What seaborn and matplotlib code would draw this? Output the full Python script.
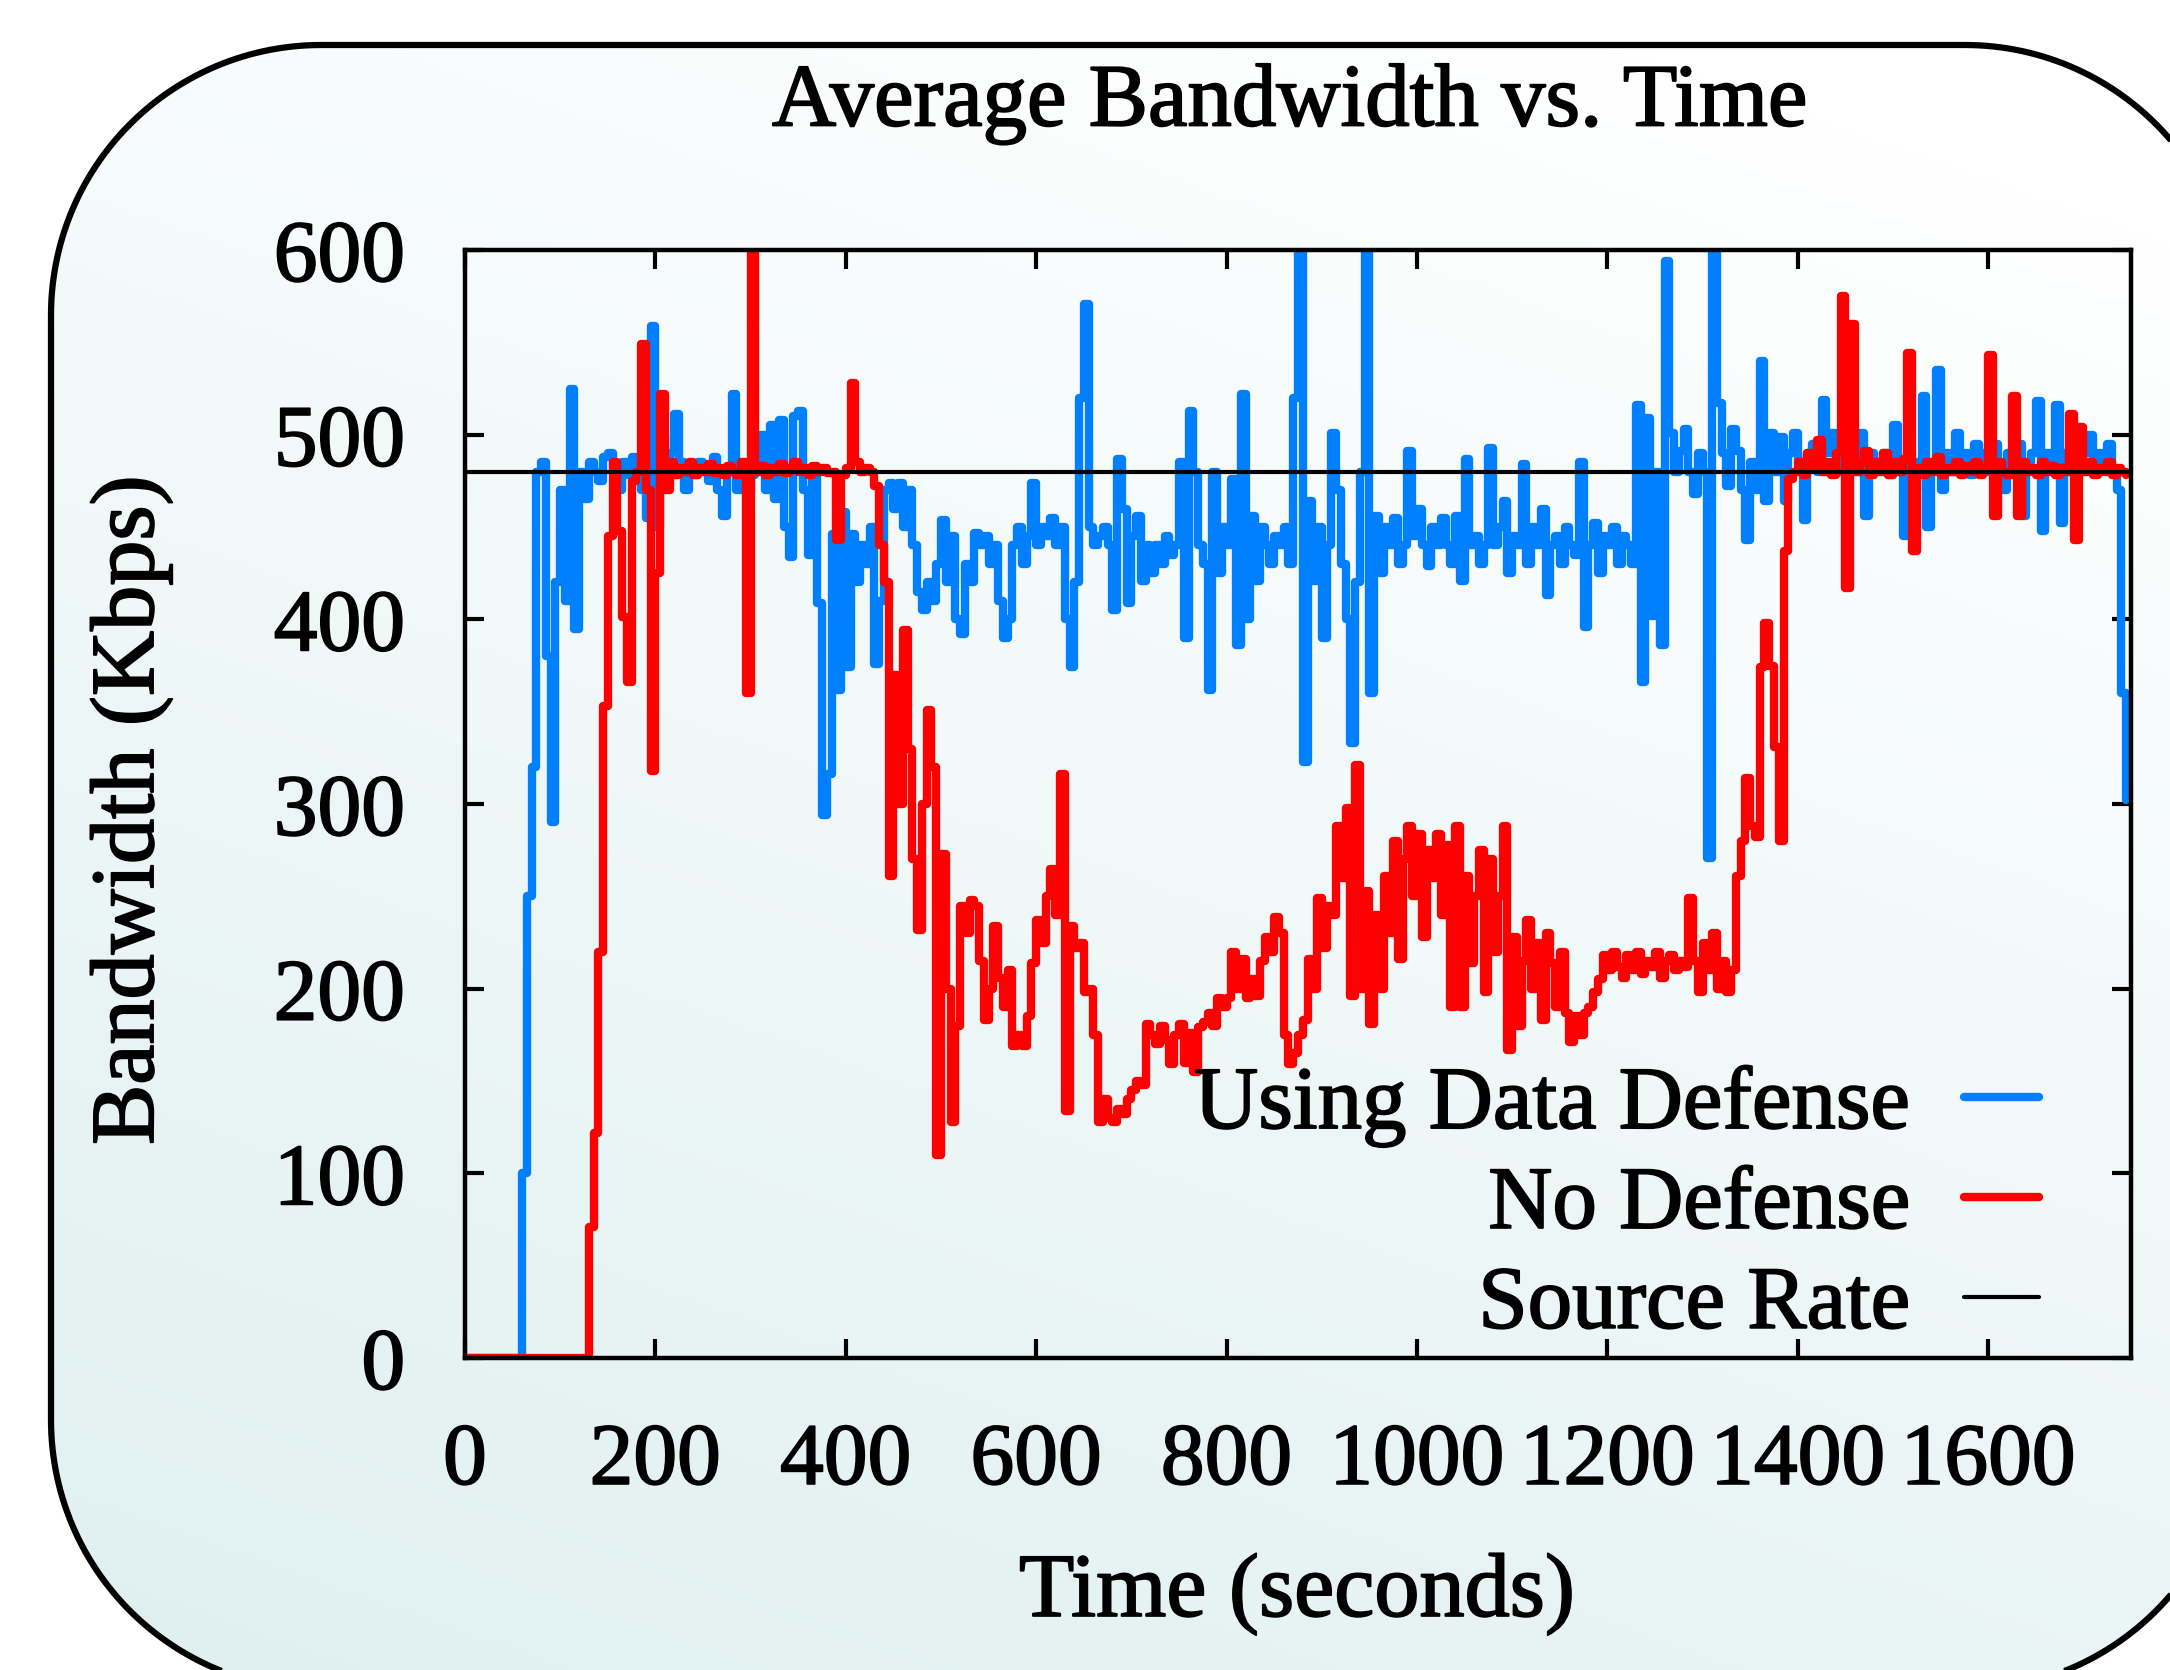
import numpy as np
import matplotlib
matplotlib.use("Agg")
import matplotlib.pyplot as plt
import matplotlib.patheffects as pe
from matplotlib.patches import Polygon
import seaborn as sns

# ---- data (5 s bins) ----
time_step = 5
t_end = 1750

# Using Data Defense (Kbps), one row per 100 s
using_data_defense = [
    0, 0, 0, 0, 0, 0, 0, 0, 0, 0, 0, 0, 100, 250, 320, 480, 485, 380, 290, 420,
    470, 410, 525, 395, 480, 465, 485, 480, 475, 488, 490, 482, 470, 485, 478, 488, 480, 470, 455, 559,
    450, 500, 475, 490, 511, 485, 470, 480, 478, 485, 480, 475, 488, 470, 456, 480, 522, 470, 480, 470,
    478, 485, 500, 470, 505, 465, 508, 450, 434, 510, 513, 470, 435, 480, 409, 294, 316, 446, 362, 458,
    374, 446, 420, 440, 430, 450, 376, 410, 470, 474, 460, 474, 450, 470, 440, 415, 405, 420, 410, 430,
    454, 420, 445, 400, 392, 430, 420, 447, 440, 445, 430, 440, 410, 390, 400, 440, 450, 430, 445, 474,
    440, 450, 445, 455, 440, 450, 400, 374, 420, 520, 571, 450, 440, 445, 450, 440, 405, 487, 460, 409,
    445, 456, 421, 440, 425, 440, 430, 445, 435, 440, 485, 390, 513, 480, 440, 430, 362, 480, 425, 450,
    440, 476, 386, 522, 400, 456, 421, 450, 440, 430, 445, 440, 450, 430, 520, 600, 323, 464, 421, 450,
    390, 440, 501, 470, 430, 400, 333, 420, 480, 600, 360, 456, 425, 450, 440, 455, 430, 440, 491, 445,
    460, 440, 429, 450, 440, 455, 440, 430, 456, 421, 487, 440, 445, 430, 440, 493, 440, 450, 464, 425,
    445, 440, 484, 430, 450, 440, 460, 413, 440, 445, 430, 450, 440, 435, 485, 396, 440, 452, 425, 445,
    440, 450, 430, 445, 440, 430, 516, 366, 509, 402, 480, 386, 594, 501, 480, 491, 503, 480, 468, 490,
    480, 271, 600, 517, 490, 472, 503, 491, 470, 443, 485, 470, 540, 464, 501, 480, 499, 464, 490, 501,
    485, 454, 490, 495, 480, 519, 490, 501, 480, 495, 485, 490, 480, 501, 456, 490, 485, 480, 490, 478,
    505, 480, 445, 490, 470, 485, 521, 450, 485, 535, 470, 490, 480, 501, 485, 490, 478, 495, 485, 490,
    480, 495, 485, 470, 490, 480, 495, 456, 485, 490, 518, 448, 490, 485, 516, 452, 490, 480, 495, 485,
    490, 500, 480, 490, 485, 495, 480, 470, 360, 302,
]

# No Defense (Kbps), one row per 100 s
no_defense = [
    0, 0, 0, 0, 0, 0, 0, 0, 0, 0, 0, 0, 0, 0, 0, 0, 0, 0, 0, 0,
    0, 0, 0, 0, 0, 0, 71, 122, 220, 353, 445, 485, 448, 401, 366, 475, 480, 549, 470, 318,
    425, 522, 470, 485, 478, 482, 480, 485, 478, 482, 480, 484, 479, 482, 478, 483, 480, 478, 485, 360,
    600, 480, 483, 478, 482, 480, 484, 479, 482, 485, 480, 482, 478, 483, 480, 482, 479, 480, 443, 478,
    482, 528, 485, 480, 482, 480, 472, 440, 420, 261, 370, 300, 394, 330, 270, 232, 300, 351, 320, 110,
    273, 200, 128, 180, 245, 230, 248, 245, 215, 183, 200, 234, 206, 190, 210, 169, 175, 169, 185, 214,
    237, 225, 250, 265, 240, 316, 134, 234, 222, 225, 198, 200, 175, 128, 140, 130, 128, 135, 132, 140,
    145, 150, 148, 181, 175, 170, 180, 172, 159, 175, 181, 160, 176, 155, 179, 182, 187, 180, 195, 190,
    195, 220, 200, 216, 195, 205, 196, 215, 228, 220, 239, 230, 175, 159, 165, 175, 183, 216, 200, 249,
    222, 245, 240, 288, 260, 298, 196, 321, 200, 253, 181, 240, 200, 261, 230, 280, 216, 270, 288, 250,
    284, 228, 275, 260, 284, 240, 278, 190, 288, 190, 261, 214, 250, 275, 198, 270, 220, 250, 288, 167,
    228, 180, 215, 237, 200, 225, 183, 230, 214, 190, 220, 187, 171, 185, 175, 187, 190, 198, 205, 218,
    210, 220, 212, 206, 218, 210, 220, 208, 215, 212, 220, 206, 215, 218, 210, 215, 212, 249, 215, 198,
    225, 210, 230, 200, 215, 198, 210, 261, 280, 314, 288, 282, 374, 398, 375, 331, 280, 437, 476, 480,
    485, 478, 490, 482, 497, 480, 485, 478, 490, 575, 417, 560, 480, 485, 491, 478, 485, 480, 490, 478,
    485, 480, 487, 544, 437, 482, 478, 485, 480, 488, 478, 482, 480, 485, 478, 483, 480, 485, 478, 482,
    543, 456, 485, 480, 478, 521, 456, 485, 480, 482, 478, 485, 480, 483, 478, 482, 480, 511, 443, 504,
    480, 485, 478, 482, 480, 485, 478, 482, 480, 478,
]

source_time = [0, 1750]
source_rate = [480, 480]

series_labels = ["Using Data Defense", "No Defense", "Source Rate"]
series_colors = ["#0080ff", "#ff0000", "#000000"]

x_ticks = [0, 200, 400, 600, 800, 1000, 1200, 1400, 1600]
y_ticks = [0, 100, 200, 300, 400, 500, 600]

time = np.arange(0, t_end, time_step)

sns.set_theme(style="ticks")
plt.rcParams["font.family"] = ["Liberation Serif", "DejaVu Serif"]

W, H = 2170, 1670
fig = plt.figure(figsize=(W / 100, H / 100), dpi=100)
fig.patch.set_facecolor("white")

# slightly heavier glyphs, like the original rendering
heavy = [pe.withStroke(linewidth=1.3, foreground="black")]


def rounded_rect(x0, y0, x1, y1, r, n=60):
    # polygon outline of a rounded rectangle (pixel units)
    pts = []
    corners = [(x1 - r, y1 - r, 0), (x0 + r, y1 - r, 90),
               (x0 + r, y0 + r, 180), (x1 - r, y0 + r, 270)]
    for cx, cy, a0 in corners:
        a = np.radians(np.linspace(a0, a0 + 90, n))
        pts.extend(zip(cx + r * np.cos(a), cy + r * np.sin(a)))
    return np.array(pts)


# rounded panel with soft gradient
bg = fig.add_axes([0, 0, 1, 1], zorder=-5)
gx, gy = np.meshgrid(np.linspace(0, 1, 300), np.linspace(0, 1, 300))
s = np.clip(0.35 * gx + 0.75 * gy, 0, 1)
low = np.array([0.875, 0.94, 0.94])
img = low[None, None, :] + (1 - low)[None, None, :] * s[..., None]
im = bg.imshow(img, extent=(51, 2235, -20, 1625), origin="lower", aspect="auto", zorder=1)
box = Polygon(rounded_rect(51, -20, 2235, 1625, 270), closed=True, facecolor="none",
              edgecolor="black", linewidth=4.5, zorder=2, transform=bg.transData)
bg.add_patch(box)
im.set_clip_path(box)
bg.set_xlim(0, W)
bg.set_ylim(0, H)
bg.axis("off")

ax = fig.add_axes([465 / W, 1 - 1358 / H, 1666 / W, 1108 / H])
ax.set_facecolor("none")

sns.lineplot(x=time, y=using_data_defense, ax=ax, color=series_colors[0], linewidth=6,
             drawstyle="steps-post", estimator=None, label=series_labels[0])
sns.lineplot(x=time, y=no_defense, ax=ax, color=series_colors[1], linewidth=6,
             drawstyle="steps-post", estimator=None, label=series_labels[1])
sns.lineplot(x=source_time, y=source_rate, ax=ax, color=series_colors[2], linewidth=3,
             estimator=None, label=series_labels[2])

ax.set_xlim(0, 1750)
ax.set_ylim(0, 600)
ax.set_xticks(x_ticks)
ax.set_yticks(y_ticks)
ax.set_xlabel("")
ax.set_ylabel("")
ax.tick_params(axis="both", direction="in", length=14, width=3, labelsize=63,
               top=True, right=True, colors="black")
ax.tick_params(axis="x", pad=46)
ax.tick_params(axis="y", pad=43)
for lab in ax.get_xticklabels() + ax.get_yticklabels():
    lab.set_path_effects(heavy)
for sp in ax.spines.values():
    sp.set_visible(True)
    sp.set_linewidth(3.2)
    sp.set_color("black")

leg = ax.legend(loc="center right", bbox_to_anchor=(0.945, 0.137), frameon=False,
                fontsize=64, markerfirst=False, handlelength=0.85, handletextpad=0.6,
                labelspacing=0.21, borderpad=0, borderaxespad=0)
for t in leg.get_texts():
    t.set_color("black")
    t.set_path_effects(heavy)
for h in leg.get_lines()[:2]:
    h.set_linewidth(6)

fig.text(1290 / W, 1 - 104 / H, "Average Bandwidth vs. Time", ha="center", va="center",
         fontsize=64, color="black", path_effects=heavy)
fig.text(1297 / W, 1 - 1594 / H, "Time (seconds)", ha="center", va="center",
         fontsize=65, color="black", path_effects=heavy)
fig.text(131 / W, 1 - 810 / H, "Bandwidth (Kbps)", ha="center", va="center",
         rotation=90, fontsize=65, color="black", path_effects=heavy)

fig.savefig("out.png", dpi=100)
